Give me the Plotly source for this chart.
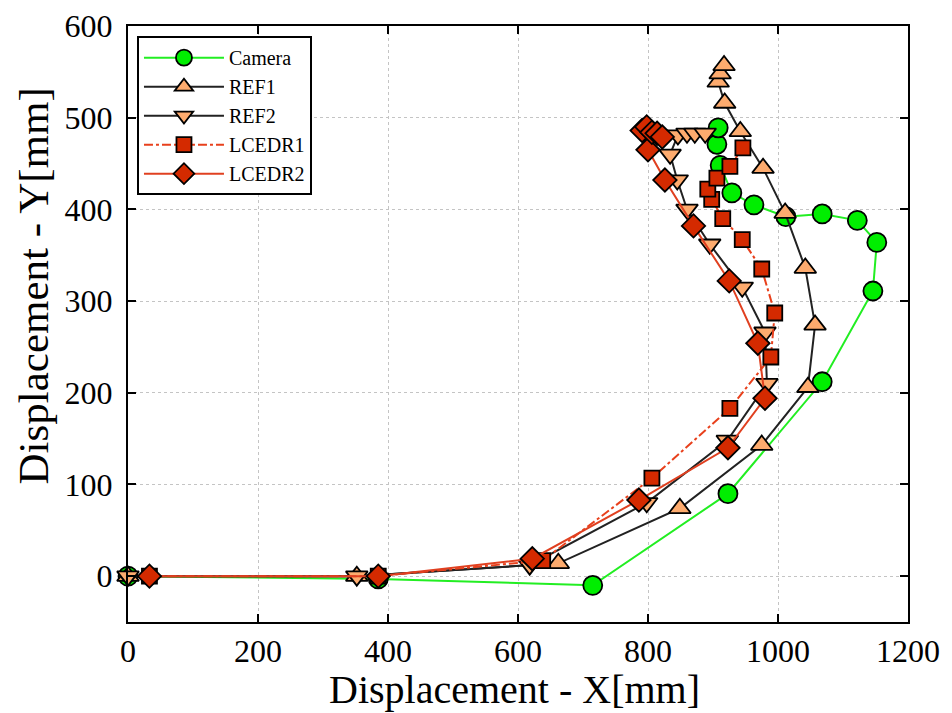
import plotly.graph_objects as go

# ---- data (mm) ----
camera_x = [0, 385, 715, 923, 1068, 1146, 1152, 1122, 1068, 1012, 963, 929, 911, 906, 908]
camera_y = [0, -3, -10, 90, 212, 311, 364, 388, 395, 392, 405, 418, 448, 471, 489]

ref1_x = [0, 352, 662, 849, 975, 1046, 1057, 1042, 1011, 977, 942, 918, 908, 911, 917]
ref1_y = [0, 0, 14, 74, 143, 206, 274, 336, 396, 445, 485, 516, 539, 548, 557]

ref2_x = [0, 352, 618, 798, 922, 983, 980, 945, 895, 860, 845, 834, 846, 860, 872, 888]
ref2_y = [0, 0, 12, 80, 148, 210, 266, 315, 362, 400, 432, 460, 481, 483, 483, 483]

lcedr1_x = [33, 385, 638, 806, 926, 989, 995, 975, 945, 915, 898, 892, 906, 926, 946]
lcedr1_y = [0, 0, 17, 107, 183, 239, 287, 335, 367, 390, 411, 422, 434, 447, 467]

lcedr2_x = [33, 385, 622, 786, 923, 980, 969, 925, 870, 826, 800, 791, 798, 806, 814, 822]
lcedr2_y = [0, 0, 19, 83, 140, 194, 254, 322, 382, 432, 465, 486, 490, 484, 483, 479]

x_ticks = [0, 200, 400, 600, 800, 1000, 1200]
y_ticks = [0, 100, 200, 300, 400, 500, 600]

x_title = "Displacement - X[mm]"
y_title = "Displacement - Y[mm]"

FONT = "Liberation Serif"

fig = go.Figure()

def add(name, xs, ys, symbol, size, fill, lcolor, dash="solid"):
    fig.add_trace(go.Scatter(
        x=xs, y=ys, name=name, mode="lines+markers",
        line=dict(color=lcolor, width=2, dash=dash),
        marker=dict(symbol=symbol, size=size, color=fill,
                    line=dict(color="black", width=1.8)),
        cliponaxis=False,
    ))

add("Camera", camera_x, camera_y, "circle", 19, "#00ee00", "#22ee22")
add("REF1", ref1_x, ref1_y, "triangle-up", 19, "#fdab6e", "#222222")
add("REF2", ref2_x, ref2_y, "triangle-down", 19, "#fdab6e", "#222222")
add("LCEDR1", lcedr1_x, lcedr1_y, "square", 15, "#d42a00", "#e8401c", "dashdot")
add("LCEDR2", lcedr2_x, lcedr2_y, "diamond", 18, "#d42a00", "#e04020")

axis_common = dict(
    showline=True, linecolor="black", linewidth=2, mirror="ticks",
    ticks="inside", ticklen=8, tickwidth=1.5, tickcolor="black",
    showgrid=True, gridcolor="#c4c4c4", griddash="dot", gridwidth=1,
    zeroline=False, automargin=False,
    tickfont=dict(family=FONT, size=32, color="black"),
)

fig.update_xaxes(
    range=[0, 1200], tickvals=x_ticks, ticktext=[str(v) for v in x_ticks],
    **axis_common,
)
fig.update_yaxes(
    range=[-50, 600], tickvals=y_ticks, ticktext=[str(v) for v in y_ticks],
    ticklabelstandoff=7,
    **axis_common,
)

fig.add_annotation(
    text=x_title, xref="paper", yref="paper", x=0.496, y=-0.114,
    xanchor="center", yanchor="middle", showarrow=False,
    font=dict(family=FONT, size=40, color="black"),
)
fig.add_annotation(
    text=y_title, xref="paper", yref="paper", x=-0.121, y=0.564,
    xanchor="center", yanchor="middle", showarrow=False, textangle=-90,
    font=dict(family=FONT, size=43, color="black"),
)

fig.update_layout(
    width=944, height=705,
    margin=dict(l=120, r=44, t=18, b=91),
    paper_bgcolor="white", plot_bgcolor="white",
    font=dict(family=FONT, color="black"),
    legend=dict(
        x=0.0115, y=0.983, xanchor="left", yanchor="top",
        bgcolor="white", bordercolor="black", borderwidth=2,
        font=dict(family=FONT, size=20, color="black"),
        itemwidth=80, tracegroupgap=0,
    ),
    showlegend=True,
)

fig.write_html("out.html")
